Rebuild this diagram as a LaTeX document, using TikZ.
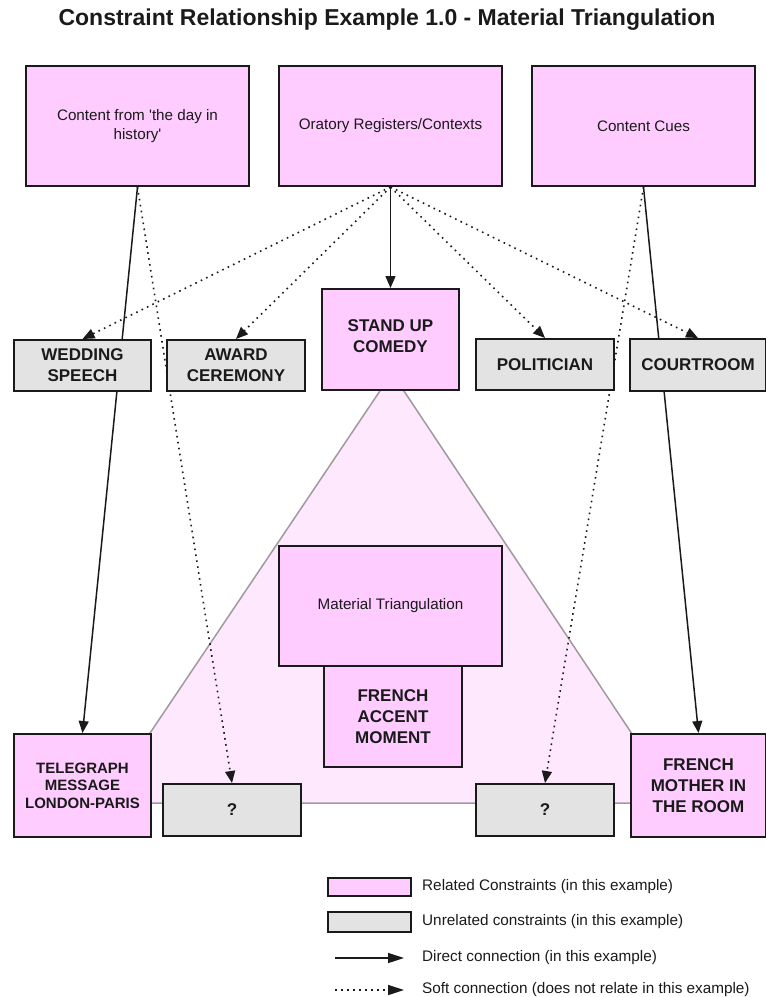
\documentclass[tikz,border=0pt]{standalone}
\usepackage{fontspec}
\setmainfont{Liberation Sans}
\usetikzlibrary{arrows.meta}
\pgfdeclarelayer{bg}
\pgfsetlayers{bg,main}
\definecolor{related}{HTML}{FFCCFF}
\definecolor{unrelated}{HTML}{E3E3E3}
\definecolor{trifill}{HTML}{FDE8FD}
\definecolor{triline}{HTML}{A09AA0}
\definecolor{ink}{HTML}{1A1A1A}

\tikzset{
  box/.style={draw=ink, line width=2pt, align=center, inner sep=2pt, text=ink},
  rel/.style={box, fill=related},
  unrel/.style={box, fill=unrelated},
  plain/.style={font=\fontsize{15.2}{18.5}\selectfont},
  caps/.style={font=\bfseries\fontsize{17}{21}\selectfont},
  small caps/.style={font=\bfseries\fontsize{15}{17.5}\selectfont},
  size/.style 2 args={minimum width=#1pt, minimum height=#2pt},
  direct/.style={line width=1.5pt, draw=ink, -{Triangle[length=12pt,width=10pt]}},
  soft/.style={line width=1.6pt, draw=ink, dash pattern=on 1.6pt off 4.4pt,
               -{Triangle[length=12pt,width=10pt]}},
  legendtext/.style={anchor=west, text=ink, inner sep=0pt, font=\fontsize{15.3}{18}\selectfont},
}

\begin{document}
\begin{tikzpicture}[x=1pt, y=-1pt]
  \useasboundingbox (0,0) rectangle (766,997);

  % title
  \node[text=ink, font=\bfseries\fontsize{23}{27}\selectfont] (title) at (387,20)
    {Constraint Relationship Example 1.0 - Material Triangulation};

  % source boxes
  \node[rel, plain, size={223}{120}] (c1) at (137.5,126)
    {Content from \textquotesingle the day in\\history\textquotesingle};
  \node[rel, plain, size={223}{120}] (c2) at (390.5,126) {Oratory Registers/Contexts};
  \node[rel, plain, size={223}{120}] (c3) at (643.5,126) {Content Cues};

  % oratory registers
  \node[unrel, caps, size={137}{51}] (wed)   at (82.5,365.5) {WEDDING\\SPEECH};
  \node[unrel, caps, size={138}{51}] (awd)   at (236,365.5)  {AWARD\\CEREMONY};
  \node[rel,   caps, size={137}{101}, text depth=6pt] (stand) at (390.5,339.5) {STAND UP\\COMEDY};
  \node[unrel, caps, size={138}{51}] (pol)   at (545,364.5)  {POLITICIAN};
  \node[unrel, caps, size={136}{52}] (court) at (698,365)    {COURTROOM};

  % triangulation centre
  \node[rel, plain, size={223}{120}] (mt)  at (390.5,606) {Material Triangulation};
  \node[rel, caps,  size={138}{101}] (acc) at (393,716.5) {FRENCH\\ACCENT\\MOMENT};

  % bottom row
  \node[rel,   small caps, size={137}{103}] (tel) at (82.5,785.5) {TELEGRAPH\\MESSAGE\\LONDON-PARIS};
  \node[unrel, caps, size={138}{52}]  (q1)  at (232,810)    {?};
  \node[unrel, caps, size={138}{52}]  (q2)  at (545,810)    {?};
  \node[rel,   caps, size={135}{103}] (mom) at (698.5,785.5) {FRENCH\\MOTHER IN\\THE ROOM};

  % legend
  \node[rel,   size={83}{18}] (keyrel) at (369.5,887) {};
  \node[unrel, size={83}{20}] (keyun)  at (369.5,922) {};
  \coordinate (dirA)  at (335,958);
  \coordinate (dirB)  at (404,958);
  \coordinate (softA) at (335,990);
  \coordinate (softB) at (404,990);
  \node[legendtext] (trel) at (422,887) {Related Constraints (in this example)};
  \node[legendtext] (tun)  at (422,922) {Unrelated constraints (in this example)};
  \node[legendtext] (tdir) at (422,958) {Direct connection (in this example)};
  \node[legendtext] (tsoft) at (422,990) {Soft connection (does not relate in this example)};

  \begin{pgfonlayer}{bg}
    % triangulation area
    \draw[fill=trifill, draw=triline, line width=1.5pt]
      (392,373) -- (103,803) -- (678,803) -- cycle;

    % connectors
    \draw[direct] (c1.south) -- (tel.north);
    \draw[soft]   (c1.south) -- (q1.north);
    \draw[direct] (c2.south) -- (stand.north);
    \draw[soft]   (c2.south) -- (wed.north);
    \draw[soft]   (c2.south) -- (awd.north);
    \draw[soft]   (c2.south) -- (pol.north);
    \draw[soft]   (c2.south) -- (court.north);
    \draw[direct] (c3.south) -- (mom.north);
    \draw[soft]   (c3.south) -- (q2.north);
  \end{pgfonlayer}

  \draw[direct, -{Triangle[length=16pt,width=10pt]}] (dirA) -- (dirB);
  \draw[soft, -{Triangle[length=16pt,width=10pt]}] (softA) -- (softB);
\end{tikzpicture}
\end{document}
